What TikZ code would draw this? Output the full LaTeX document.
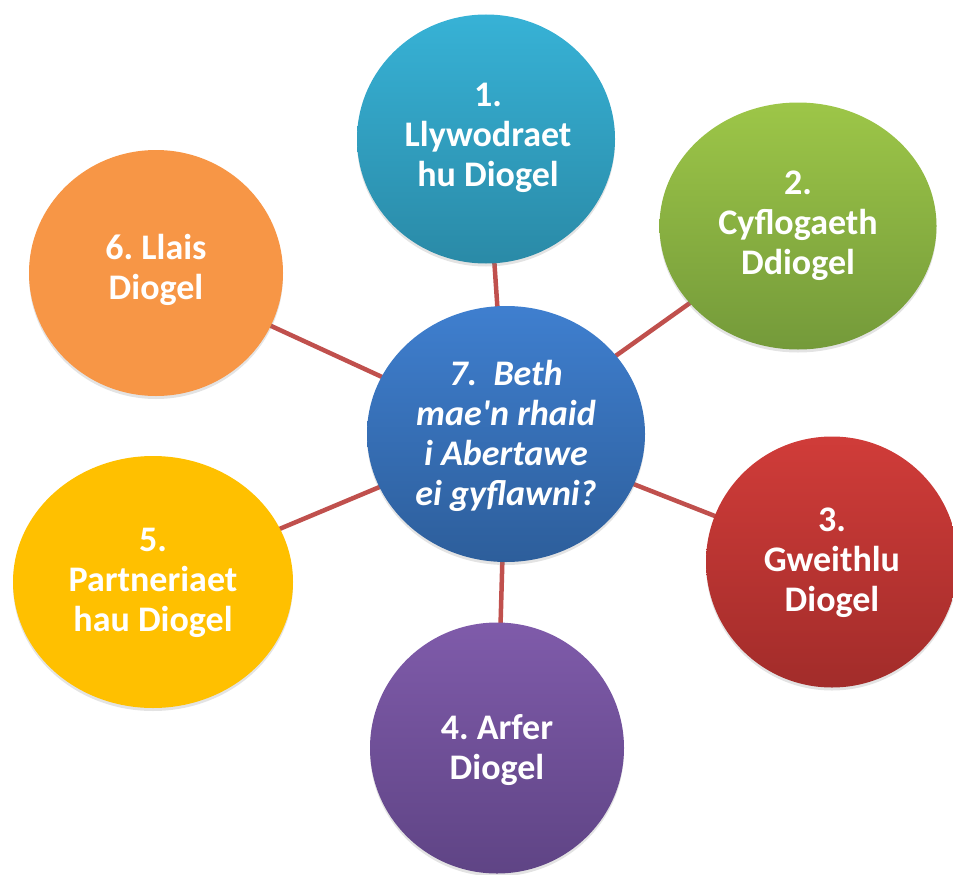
\documentclass[tikz,border=0pt]{standalone}
\usepackage{fontspec}
\setmainfont{Carlito}
\frenchspacing
\usetikzlibrary{shapes.geometric,shadows,backgrounds}
\definecolor{linkred}{HTML}{C0504D}
\definecolor{aquaT}{HTML}{37B2D6}
\definecolor{aquaB}{HTML}{2A8AA7}
\definecolor{greenT}{HTML}{9DC648}
\definecolor{greenB}{HTML}{749A3A}
\definecolor{redT}{HTML}{D03C39}
\definecolor{redB}{HTML}{A22C2A}
\definecolor{purpT}{HTML}{7F5BAA}
\definecolor{purpB}{HTML}{5F4485}
\definecolor{goldF}{HTML}{FFC000}
\definecolor{orangeF}{HTML}{F79646}
\definecolor{blueT}{HTML}{3F7FCF}
\definecolor{blueB}{HTML}{2D5E9B}
\tikzset{
  bubble/.style={ellipse, inner sep=0pt, draw=none,
    drop shadow={opacity=0.22, shadow xshift=0pt, shadow yshift=-3pt}},
  grad/.style 2 args={shading=axis, top color=#1, bottom color=#2, shading angle=0},
  label text/.style={align=center, text=white, font=\fontsize{36}{40}\selectfont\bfseries\frenchspacing, inner sep=0pt},
  link/.style={draw=linkred, line width=4.5pt}
}
\begin{document}
\begin{tikzpicture}[x=1pt,y=-1pt]
\useasboundingbox (0,0) rectangle (953,875);
% bubbles
\node[bubble, grad={blueT}{blueB}, minimum width=278pt, minimum height=256pt] (c) at (506,434) {};
\node[bubble, grad={aquaT}{aquaB}, minimum width=258pt, minimum height=249pt] (n1) at (486,139) {};
\node[bubble, grad={greenT}{greenB}, minimum width=277pt, minimum height=247pt] (n2) at (798,226) {};
\node[bubble, grad={redT}{redB}, minimum width=252pt, minimum height=251pt] (n3) at (832,562) {};
\node[bubble, grad={purpT}{purpB}, minimum width=254pt, minimum height=251pt] (n4) at (497,748) {};
\node[bubble, fill=goldF, minimum width=280pt, minimum height=252pt] (n5) at (153,582) {};
\node[bubble, fill=orangeF, minimum width=254pt, minimum height=246pt] (n6) at (156,273) {};
% connectors
\begin{pgfonlayer}{background}
\draw[link] (c.center) -- (n1.center);
\draw[link] (c.center) -- (n2.center);
\draw[link] (c.center) -- (n3.center);
\draw[link] (c.center) -- (n4.center);
\draw[link] (c.center) -- (n5.center);
\draw[link] (c.center) -- (n6.center);
\end{pgfonlayer}
% texts
\node[label text, font=\fontsize{36}{40}\selectfont\bfseries\itshape\frenchspacing] (tc) at (506,436) {7.\ \ Beth\\mae\textquotesingle n rhaid\\i Abertawe\\ei gyflawni?};
\node[label text] (t1) at (488,138) {1.\\Llywodraet\\hu Diogel};
\node[label text] (t2) at (798,226) {2.\\Cyflogaeth\\Ddiogel};
\node[label text] (t3) at (832,563) {3.\\Gweithlu\\Diogel};
\node[label text] (t4) at (497,750) {4. Arfer\\Diogel};
\node[label text] (t5) at (153,583) {5.\\Partneriaet\\hau Diogel};
\node[label text] (t6) at (156,270) {6. Llais\\Diogel};
\end{tikzpicture}
\end{document}
